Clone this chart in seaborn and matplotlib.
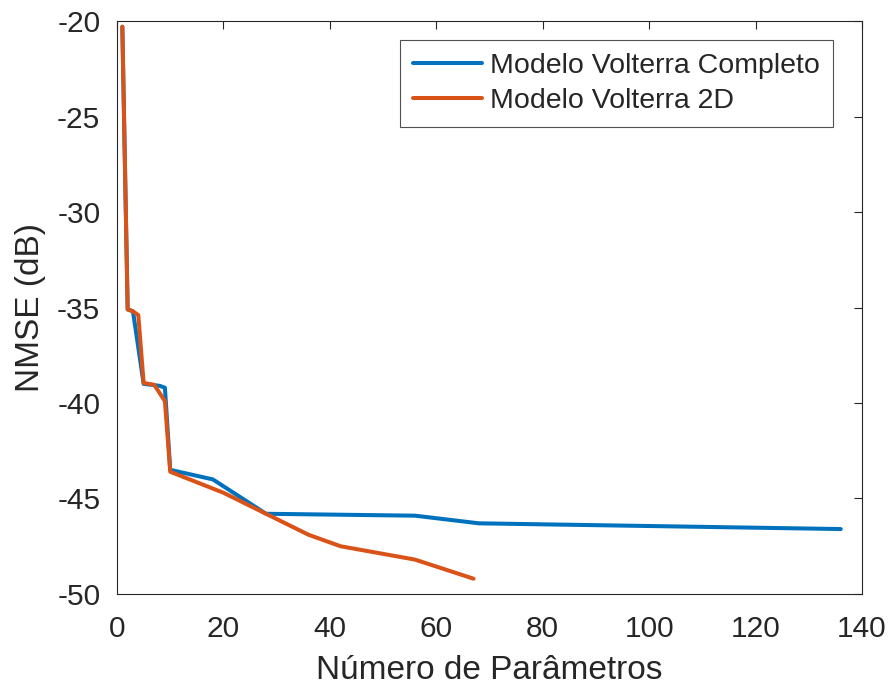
import matplotlib
matplotlib.use("Agg")
import matplotlib.pyplot as plt
import seaborn as sns
import pandas as pd

# Number of parameters vs. NMSE for each model
params_full = [1, 2, 3, 5, 8, 9, 10, 18, 28, 56, 68, 136]
nmse_full = [-20.3, -35.1, -35.2, -39.0, -39.1, -39.2, -43.5, -44.0, -45.8, -45.9, -46.3, -46.6]

params_2d = [1, 2, 3, 4, 5, 7, 9, 10, 20, 28, 36, 42, 56, 67]
nmse_2d = [-20.3, -35.1, -35.2, -35.4, -38.95, -39.05, -39.9, -43.6, -44.7, -45.8, -46.9, -47.5, -48.2, -49.2]

label_full = "Modelo Volterra Completo"
label_2d = "Modelo Volterra 2D"

df = pd.concat([
    pd.DataFrame({"params": params_full, "nmse": nmse_full, "modelo": label_full}),
    pd.DataFrame({"params": params_2d, "nmse": nmse_2d, "modelo": label_2d}),
])

sns.set_theme(style="white")
plt.rcParams["font.family"] = ["Liberation Sans", "DejaVu Sans"]
plt.rcParams["axes.unicode_minus"] = False

fig = plt.figure(figsize=(8.96, 6.89), dpi=100)
ax = fig.add_axes([0.1306, 0.1379, 0.8315, 0.8316])

sns.lineplot(data=df, x="params", y="nmse", hue="modelo", sort=False,
             palette={label_full: "#0072BD", label_2d: "#D95319"},
             linewidth=2.9, ax=ax, estimator=None)

ax.set_xlim(0, 140)
ax.set_ylim(-50, -20)
ax.set_xticks(range(0, 141, 20))
ax.set_yticks(range(-50, -19, 5))
ax.set_xlabel("Número de Parâmetros", fontsize=24, color="#262626", labelpad=9)
ax.set_ylabel("NMSE (dB)", fontsize=24, color="#262626", labelpad=8)
ax.tick_params(axis="both", which="both", direction="in", length=6, width=0.8,
               colors="#262626", labelsize=21.5, top=True, right=True)
ax.tick_params(axis="x", pad=15)
ax.tick_params(axis="y", pad=12)
for s in ax.spines.values():
    s.set_visible(True)
    s.set_color("#262626")
    s.set_linewidth(0.8)

leg = ax.legend(loc="upper right", fontsize=20.5, frameon=True, fancybox=False,
                edgecolor="#262626", handlelength=2.45, handletextpad=0.28,
                borderpad=0.45, borderaxespad=0, labelspacing=0.32,
                bbox_to_anchor=(0.961, 0.9668))
leg.get_frame().set_linewidth(0.8)
for line in leg.get_lines():
    line.set_linewidth(2.9)

fig.savefig("out.png", dpi=100, facecolor="white")
